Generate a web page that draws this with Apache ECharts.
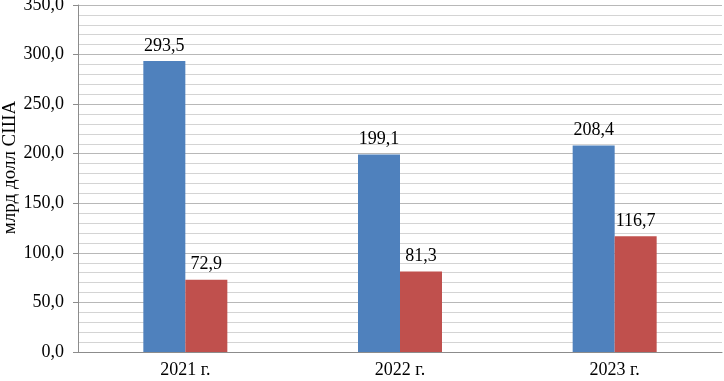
<!DOCTYPE html>
<html>
<head>
<meta charset="utf-8">
<script src="https://cdn.jsdelivr.net/npm/echarts@6/dist/echarts.min.js"></script>
<style>
  html, body { margin: 0; padding: 0; background: #fff; }
  #chart { width: 724px; height: 381px; }
</style>
</head>
<body>
<div id="chart"></div>
<script>
const years = ['2021 г.', '2022 г.', '2023 г.'];
const seriesA = [293.5, 199.1, 208.4];
const seriesB = [72.9, 81.3, 116.7];

const fmt = v => Number(v).toFixed(1).replace('.', ',');
const font = '"Liberation Serif", "Times New Roman", serif';

const myChart = echarts.init(document.getElementById('chart'));
const option = {
  animation: false,
  textStyle: { fontFamily: font },
  grid: {
    left: 78,
    right: 2,
    top: 5,
    bottom: 29,
    outerBoundsMode: 'none',
  },
  xAxis: {
    type: 'category',
    data: years,
    axisLine: { lineStyle: { color: '#8c8c8c', width: 1 } },
    axisTick: { show: false },
    axisLabel: { color: '#000', fontSize: 18, fontFamily: font, margin: 9 },
  },
  yAxis: {
    type: 'value',
    min: 0,
    max: 350,
    interval: 50,
    name: 'млрд долл США',
    nameLocation: 'middle',
    nameGap: 58,
    nameMoveOverlap: false,
    nameTextStyle: {
      color: '#000',
      fontSize: 19,
      fontFamily: font,
      padding: [0, 0, 0, 22],
    },
    axisLine: { show: true, lineStyle: { color: '#8c8c8c' } },
    axisTick: { show: true, length: 5, lineStyle: { color: '#8c8c8c' } },
    axisLabel: { color: '#000', fontSize: 18, fontFamily: font, margin: 14, formatter: fmt },
    splitLine: { lineStyle: { color: '#b8b8b8', width: 1 } },
    minorTick: { show: false, splitNumber: 5 },
    minorSplitLine: { show: true, lineStyle: { color: '#d4d4d4', width: 1 } },
  },
  series: [
    {
      type: 'bar',
      data: seriesA,
      barWidth: 42,
      barGap: '0%',
      itemStyle: { color: '#4F81BD' },
      label: {
        show: true,
        position: 'top',
        distance: 6,
        color: '#000',
        fontSize: 18,
        fontFamily: font,
        formatter: p => fmt(p.value),
      },
    },
    {
      type: 'bar',
      data: seriesB,
      barWidth: 42,
      barGap: '0%',
      itemStyle: { color: '#C0504D' },
      label: {
        show: true,
        position: 'top',
        distance: 6,
        color: '#000',
        fontSize: 18,
        fontFamily: font,
        formatter: p => fmt(p.value),
      },
    },
  ],
};
myChart.setOption(option);
</script>
</body>
</html>
